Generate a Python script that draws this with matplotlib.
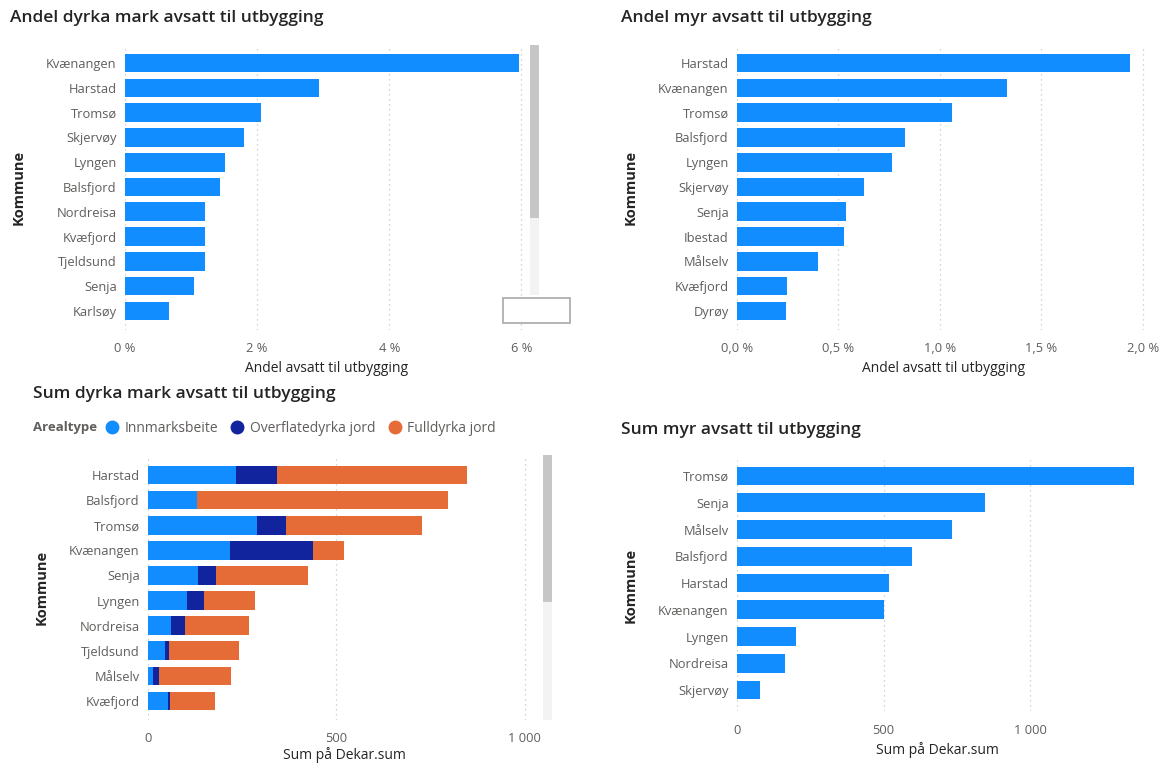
import matplotlib.pyplot as plt
from matplotlib.lines import Line2D
from matplotlib.patches import Rectangle

plt.rcParams['font.family'] = ['Open Sans', 'DejaVu Sans']

# Data
kommuner_dyrka_andel = ["Kvænangen", "Harstad", "Tromsø", "Skjervøy", "Lyngen", "Balsfjord",
                        "Nordreisa", "Kvæfjord", "Tjeldsund", "Senja", "Karlsøy"]
andel_dyrka = [5.97, 2.93, 2.06, 1.80, 1.51, 1.44, 1.21, 1.21, 1.21, 1.05, 0.66]

kommuner_myr_andel = ["Harstad", "Kvænangen", "Tromsø", "Balsfjord", "Lyngen", "Skjervøy",
                      "Senja", "Ibestad", "Målselv", "Kvæfjord", "Dyrøy"]
andel_myr = [1.935, 1.332, 1.057, 0.827, 0.765, 0.626, 0.538, 0.527, 0.397, 0.246, 0.239]

kommuner_dyrka_sum = ["Harstad", "Balsfjord", "Tromsø", "Kvænangen", "Senja", "Lyngen",
                      "Nordreisa", "Tjeldsund", "Målselv", "Kvæfjord"]
innmarksbeite = [234, 130, 290, 217, 132, 104, 61, 45, 14, 54]
overflatedyrka = [108, 0, 77, 220, 48, 45, 37, 10, 14, 4]
fulldyrka = [505, 665, 360, 83, 245, 136, 170, 186, 191, 119]

kommuner_myr_sum = ["Tromsø", "Senja", "Målselv", "Balsfjord", "Harstad", "Kvænangen",
                    "Lyngen", "Nordreisa", "Skjervøy"]
sum_myr = [1355, 846, 732, 598, 519, 503, 203, 165, 80]

BLUE = "#118DFF"
DARK = "#12239E"
ORANGE = "#E66C37"
TICK = "#605E5C"
TITLE = "#252423"
GRID = "#C8C6C4"

W, H = 1164, 764
fig = plt.figure(figsize=(W / 100, H / 100), dpi=100)


def box(x0, y0, x1, y1):
    return [x0 / W, 1 - y1 / H, (x1 - x0) / W, (y1 - y0) / H]


def style(ax, n, top, bot, ticks, labels, xlab, xmax, xpad=4):
    ax.set_xlim(0, xmax)
    ax.set_ylim(n - 1 + bot, -top)
    ax.set_xticks(ticks)
    ax.set_xticklabels(labels)
    for s in ax.spines.values():
        s.set_visible(False)
    ax.tick_params(length=0, colors=TICK, labelsize=9.3)
    ax.tick_params(axis='x', pad=9)
    ax.tick_params(axis='y', pad=6)
    ax.grid(axis='x', color=GRID, linestyle=(0, (1, 3)), linewidth=0.9)
    ax.set_axisbelow(True)
    ax.set_xlabel(xlab, fontsize=10, color=TITLE, labelpad=xpad)
    ax.set_ylabel("Kommune", fontsize=10.5, color=TITLE, fontweight='bold', labelpad=15)


# Panel 1
ax1 = fig.add_axes(box(125, 45, 528, 330))
ax1.barh(kommuner_dyrka_andel, andel_dyrka, height=0.75, color=BLUE)
style(ax1, len(kommuner_dyrka_andel), 0.73, 0.77, [0, 2, 4, 6],
      ["0 %", "2 %", "4 %", "6 %"], "Andel avsatt til utbygging", 6.1)
fig.text(10 / W, 1 - 18 / H, "Andel dyrka mark avsatt til utbygging", fontsize=12.5,
         color=TITLE, va='center', fontweight='semibold')

# Panel 2
ax2 = fig.add_axes(box(737, 45, 1150, 330))
ax2.barh(kommuner_myr_andel, andel_myr, height=0.75, color=BLUE)
style(ax2, len(kommuner_myr_andel), 0.73, 0.77, [0, 0.5, 1.0, 1.5, 2.0],
      ["0,0 %", "0,5 %", "1,0 %", "1,5 %", "2,0 %"], "Andel avsatt til utbygging", 2.035)
fig.text(621 / W, 1 - 18 / H, "Andel myr avsatt til utbygging", fontsize=12.5,
         color=TITLE, va='center', fontweight='semibold')

# Panel 3
ax3 = fig.add_axes(box(148, 455, 540, 720))
ax3.barh(kommuner_dyrka_sum, innmarksbeite, height=0.74, color=BLUE, label="Innmarksbeite")
left2 = innmarksbeite
ax3.barh(kommuner_dyrka_sum, overflatedyrka, left=left2, height=0.74, color=DARK,
         label="Overflatedyrka jord")
left3 = [a + b for a, b in zip(innmarksbeite, overflatedyrka)]
ax3.barh(kommuner_dyrka_sum, fulldyrka, left=left3, height=0.74, color=ORANGE,
         label="Fulldyrka jord")
style(ax3, len(kommuner_dyrka_sum), 0.8, 0.76, [0, 500, 1000],
      ["0", "500", "1 000"], "Sum på Dekar.sum", 1040, xpad=1)
fig.text(33 / W, 1 - 394 / H, "Sum dyrka mark avsatt til utbygging", fontsize=12.5,
         color=TITLE, va='center', fontweight='semibold')
fig.text(33 / W, 1 - 428 / H, "Arealtype", fontsize=9.5, color=TICK, va='center',
         fontweight='bold')
handles = [Line2D([], [], marker='o', linestyle='', markersize=9, color=c)
           for c in [BLUE, DARK, ORANGE]]
fig.legend(handles, ["Innmarksbeite", "Overflatedyrka jord", "Fulldyrka jord"],
           loc='center left', bbox_to_anchor=(98 / W, 1 - 428 / H), ncol=3, frameon=False,
           fontsize=10, handletextpad=-0.1, columnspacing=0.4, labelcolor=TICK,
           borderaxespad=0, borderpad=0)

# Panel 4
ax4 = fig.add_axes(box(737, 460, 1137, 711))
ax4.barh(kommuner_myr_sum, sum_myr, height=0.7, color=BLUE)
style(ax4, len(kommuner_myr_sum), 0.6, 0.78, [0, 500, 1000],
      ["0", "500", "1 000"], "Sum på Dekar.sum", 1365)
fig.text(621 / W, 1 - 430 / H, "Sum myr avsatt til utbygging", fontsize=12.5,
         color=TITLE, va='center', fontweight='semibold')

# Scrollbars
def px_rect(x0, y0, x1, y1, **kw):
    fig.add_artist(Rectangle((x0 / W, 1 - y1 / H), (x1 - x0) / W, (y1 - y0) / H,
                             transform=fig.transFigure, **kw))

px_rect(530, 45, 539, 295, color="#F3F3F3", lw=0)
px_rect(530, 45, 539, 218, color="#C6C6C6", lw=0)
px_rect(503, 298, 570, 323, facecolor="white", edgecolor="#A8A8A8", lw=1.2)
px_rect(543, 455, 552, 720, color="#F3F3F3", lw=0)
px_rect(543, 455, 552, 602, color="#C6C6C6", lw=0)

fig.savefig("out.png", dpi=100)
